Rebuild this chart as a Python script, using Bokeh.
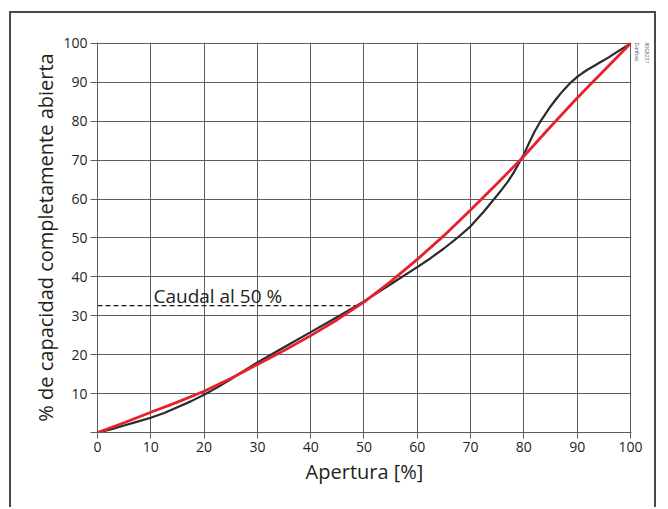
from bokeh.embed import file_html
from bokeh.models import FixedTicker, Label, Range1d, Title
from bokeh.plotting import figure
from bokeh.resources import INLINE

# Linear characteristic (red)
apertura_lineal = [0, 5, 10, 15, 20, 25, 30, 35, 40, 45, 50, 55, 60, 65, 70, 75,
                   80, 85, 90, 95, 100]
capacidad_lineal = [0, 2.5, 5.2, 7.8, 10.6, 13.9, 17.5, 21.1, 24.9, 29.0, 33.5,
                    38.8, 44.5, 50.6, 57.2, 64.0, 71.0, 78.6, 86.0, 93.0, 100]

# Real valve characteristic (black)
apertura_real = [0, 2.5, 5, 7.5, 10, 12.5, 15, 17.5, 20, 22.5, 25, 27.5, 30, 35,
                 40, 45, 50, 55, 60, 62.5, 65, 67.5, 70, 72.5, 75, 76, 77, 78, 79,
                 80, 81, 82, 83, 84, 85, 86, 87, 88, 89, 90, 91, 92, 93, 94, 95,
                 96, 97, 98, 99, 100]
capacidad_real = [0, 0.8, 1.8, 2.8, 3.8, 5.0, 6.5, 8.0, 9.7, 11.6, 13.7, 15.9,
                  18.0, 21.9, 25.8, 29.7, 33.7, 38.1, 42.5, 44.8, 47.3, 50.0, 53.0,
                  56.8, 61.0, 62.7, 64.5, 66.6, 69.0, 71.5, 74.5, 77.3, 79.7, 81.8,
                  83.8, 85.6, 87.3, 88.8, 90.2, 91.4, 92.4, 93.3, 94.1, 94.9, 95.7,
                  96.5, 97.4, 98.3, 99.1, 100]

# Flow at 50 % opening
caudal_x = [0, 48.7]
caudal_y = [32.6, 32.6]

ticks = list(range(0, 101, 10))

FONT = "Open Sans"
GRID = "#5e5e5e"
TEXT = "#231f20"

p = figure(
    width=647, height=496,
    output_backend="svg", toolbar_location=None,
    x_range=Range1d(0, 100.2), y_range=Range1d(0, 100.25),
    min_border_left=86, min_border_right=27,
    min_border_top=29, min_border_bottom=77,
)
p.styles = {
    "margin-left": "9px",
    "margin-top": "11px",
    "border-left": "2px solid #4a4a4a",
    "border-top": "2px solid #4a4a4a",
    "border-right": "2px solid #4a4a4a",
    "background": "white",
}
p.outline_line_color = None
p.background_fill_color = "white"
p.border_fill_color = "white"

for ax in (p.xaxis, p.yaxis):
    ax.ticker = FixedTicker(ticks=ticks)
    ax.axis_line_color = GRID
    ax.major_tick_line_color = GRID
    ax.minor_tick_line_color = None
    ax.major_tick_in = 0
    ax.major_label_text_font = FONT
    ax.major_label_text_font_size = "14px"
    ax.major_label_text_color = TEXT
    ax.axis_label_text_font = FONT
    ax.axis_label_text_font_size = "20px"
    ax.axis_label_text_font_style = "normal"
    ax.axis_label_text_color = TEXT

p.xaxis.major_tick_out = 6
p.xaxis.major_label_standoff = 3
p.xaxis.axis_label = "Apertura [%]"
p.xaxis.axis_label_standoff = 3

p.yaxis.major_tick_out = 7
p.yaxis.major_label_standoff = 3
p.yaxis.major_label_overrides = {0: ""}
p.yaxis.axis_label = "% de capacidad completamente abierta"
p.yaxis.axis_label_standoff = 1

for g in (p.xgrid, p.ygrid):
    g.ticker = FixedTicker(ticks=ticks)
    g.grid_line_color = GRID
    g.grid_line_width = 1

p.line(caudal_x, caudal_y, line_color="#1a1a1a", line_width=1.2, line_dash="5 3")
p.line(apertura_real, capacidad_real, line_color="#2b2b2b", line_width=2.2)
p.line(apertura_lineal, capacidad_lineal, line_color="#e8202a", line_width=2.8)

p.add_layout(Label(
    x=10.5, y=35.0, text="Caudal al 50 %",
    text_font=FONT, text_font_size="19px", text_color=TEXT,
    text_baseline="alphabetic",
))

# Drawing reference beside the top-right corner
for txt, stand in (("Danfoss", 4), ("80G8237", 0)):
    p.add_layout(Title(
        text=txt, align="left", standoff=stand, offset=0,
        text_font=FONT, text_font_size="5px", text_font_style="normal",
        text_color="#555555",
    ), "right")

open("out.html", "w").write(file_html(p, INLINE))
